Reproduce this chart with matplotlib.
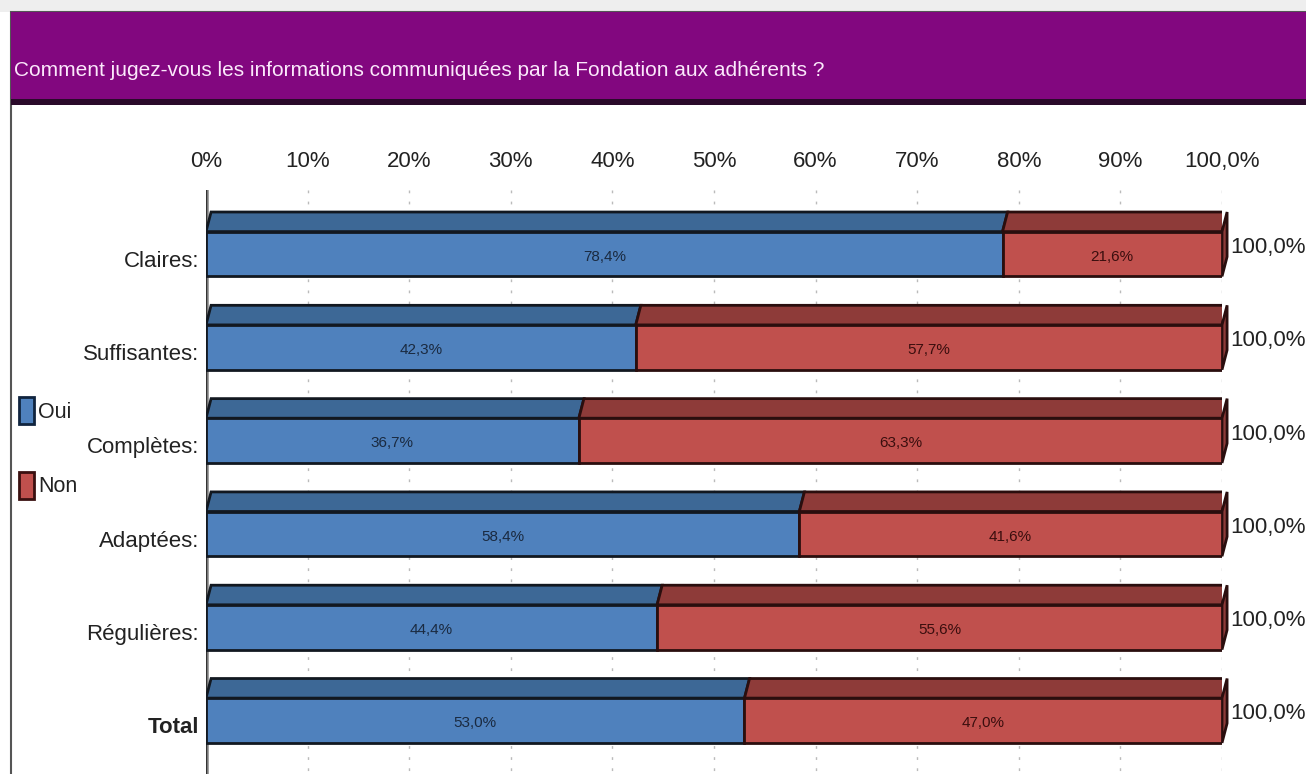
import matplotlib
matplotlib.use('Agg')
import matplotlib.pyplot as plt
from matplotlib.patches import Rectangle

plt.rcParams['font.family'] = ['Liberation Sans', 'DejaVu Sans']

categories = ['Claires:', 'Suffisantes:', 'Complètes:', 'Adaptées:', 'Régulières:', 'Total']
oui = [78.4, 42.3, 36.7, 58.4, 44.4, 53.0]
non = [21.6, 57.7, 63.3, 41.6, 55.6, 47.0]
oui_labels = ['78,4%', '42,3%', '36,7%', '58,4%', '44,4%', '53,0%']
non_labels = ['21,6%', '57,7%', '63,3%', '41,6%', '55,6%', '47,0%']
tick_vals = [0, 10, 20, 30, 40, 50, 60, 70, 80, 90, 100]
tick_labels = ['0%', '10%', '20%', '30%', '40%', '50%', '60%', '70%', '80%', '90%', '100,0%']
title = 'Comment jugez-vous les informations communiquées par la Fondation aux adhérents ?'

W, H = 1306, 774
fig = plt.figure(figsize=(W / 100, H / 100), dpi=100)
fig.patch.set_facecolor('white')

# cadre + bandeau titre
bg = fig.add_axes([0, 0, 1, 1])
bg.set_xlim(0, W)
bg.set_ylim(H, 0)
bg.axis('off')
bg.add_patch(Rectangle((0, 0), W, 12, facecolor='#eeeeee', edgecolor='none'))
bg.add_patch(Rectangle((11, 12), W, H, facecolor='white', edgecolor='#555555', lw=1.5))
bg.add_patch(Rectangle((11, 12), W, 90, facecolor='#82077f', edgecolor='none'))
bg.add_patch(Rectangle((11, 99), W, 6, facecolor='#2a0a2a', edgecolor='none'))
bg.text(14, 70, title, color='#fbe8fb', fontsize=15, va='center', ha='left')

# legende
bg.add_patch(Rectangle((19, 397), 15, 27, facecolor='#4f81bd', edgecolor='#10243e', lw=2))
bg.text(38, 412, 'Oui', fontsize=15.5, va='center', ha='left', color='#222222')
bg.add_patch(Rectangle((19, 472), 15, 27, facecolor='#c0504d', edgecolor='#3a1010', lw=2))
bg.text(38, 487, 'Non', fontsize=15.5, va='center', ha='left', color='#222222')

# axes principal : x 0..100 -> px 206..1222
x0px, x1px = 206, 1222
top_px, bot_px = 190, 774
ax = fig.add_axes([x0px / W, 1 - bot_px / H, (x1px - x0px) / W, (bot_px - top_px) / H])
ax.set_facecolor('none')
step = 93.3
ymin = (top_px - 254) / step
ymax = (bot_px - 254) / step
ax.set_xlim(0, 100)
ax.set_ylim(ymax, ymin)
for s in ax.spines.values():
    s.set_visible(False)

ax.xaxis.tick_top()
ax.set_xticks(tick_vals)
ax.set_xticklabels(tick_labels, fontsize=16, color='#222222')
ax.tick_params(axis='x', length=0, pad=13)
ax.set_yticks([v + 0.05 for v in range(len(categories))])
ax.set_yticklabels(categories, fontsize=16, color='#222222')
ax.get_yticklabels()[-1].set_fontweight('bold')
ax.tick_params(axis='y', length=0, pad=5)

# grille discrete
ax.vlines(tick_vals[1:], ymin, ymax, colors='#bbbbbb', linestyles=(0, (2, 6)), lw=1, zorder=0)

# paroi gauche
ax.axvline(0, color='#888888', lw=4, zorder=1)
ax.axvline(0, color='#333333', lw=1, zorder=1)

h = 0.48
d = 0.21
dx = 0.5
blue, blue_top = '#4f81bd', '#3d6896'
red, red_top = '#c0504d', '#8e3b39'
edge = '#121820'
y = list(range(len(categories)))

ax.barh(y, oui, height=h, color=blue, edgecolor=edge, lw=2, zorder=3)
ax.barh(y, non, left=oui, height=h, color=red, edgecolor='#2a0e0e', lw=2, zorder=3)

for i in y:
    yt = i - h / 2
    yb = i + h / 2
    # faces du dessus
    ax.fill([0, oui[i], oui[i] + dx, dx], [yt, yt, yt - d, yt - d],
            color=blue_top, ec=edge, lw=2, zorder=2)
    ax.fill([oui[i], 100, 100 + dx, oui[i] + dx], [yt, yt, yt - d, yt - d],
            color=red_top, ec='#2a0e0e', lw=2, zorder=2)
    # face de droite
    ax.fill([100, 100 + dx, 100 + dx, 100], [yt, yt - d, yb - d, yb],
            color=red_top, ec='#2a0e0e', lw=2, zorder=2, clip_on=False)
    ax.text(oui[i] / 2, i + 0.03, oui_labels[i], ha='center', va='center',
            fontsize=11, color='#1a2a40', zorder=4)
    ax.text(oui[i] + non[i] / 2, i + 0.03, non_labels[i], ha='center', va='center',
            fontsize=11, color='#3a0e0e', zorder=4)
    ax.text(100.8, i - 0.07, '100,0%', ha='left', va='center', fontsize=16,
            color='#222222', clip_on=False)

fig.savefig('out.png', dpi=100)
